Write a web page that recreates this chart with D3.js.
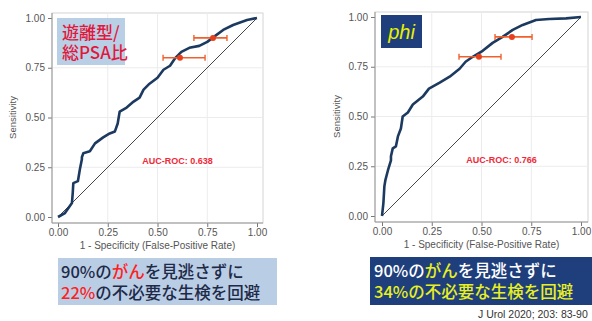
<!DOCTYPE html>
<html>
<head>
<meta charset="utf-8">
<script src="https://cdn.jsdelivr.net/npm/d3@7"></script>
<style>
  body { margin: 0; background: #fff; }
  svg { display: block; }
  .tick text { font-family: "Liberation Sans", Arial, sans-serif; font-size: 10px; fill: #555; }
  .tick line { stroke: #777; }
  .axisTitle { font-family: "Liberation Sans", Arial, sans-serif; fill: #555; }
  .jp { font-family: "Noto Sans CJK JP", sans-serif; font-weight: 500; }
</style>
</head>
<body>
<div id="chart"></div>
<script>
// ROC curve (false-positive rate, sensitivity)
var fprFree = [0, 0.035, 0.07, 0.074, 0.077, 0.10, 0.11, 0.12, 0.12, 0.127, 0.16, 0.186, 0.227, 0.26, 0.286, 0.30, 0.31, 0.345, 0.38, 0.41, 0.43, 0.46, 0.50, 0.53, 0.563, 0.59, 0.62, 0.66, 0.71, 0.75, 0.79, 0.83, 0.88, 0.95, 1.0];
var tprFree = [0, 0.02, 0.07, 0.12, 0.17, 0.18, 0.24, 0.29, 0.30, 0.32, 0.33, 0.37, 0.40, 0.42, 0.43, 0.47, 0.53, 0.55, 0.58, 0.60, 0.64, 0.67, 0.70, 0.74, 0.76, 0.80, 0.83, 0.85, 0.86, 0.88, 0.91, 0.94, 0.965, 0.99, 1.0];

var fprPhi = [0, 0.007, 0.012, 0.017, 0.03, 0.045, 0.045, 0.054, 0.07, 0.08, 0.095, 0.104, 0.13, 0.155, 0.18, 0.205, 0.236, 0.29, 0.34, 0.39, 0.42, 0.456, 0.506, 0.556, 0.606, 0.657, 0.707, 0.774, 0.84, 0.925, 1.0];
var tprPhi = [0, 0.065, 0.15, 0.18, 0.23, 0.28, 0.30, 0.34, 0.35, 0.40, 0.44, 0.50, 0.52, 0.56, 0.58, 0.60, 0.64, 0.67, 0.70, 0.74, 0.775, 0.80, 0.83, 0.87, 0.90, 0.935, 0.96, 0.985, 0.99, 0.993, 1.0];

// cut-off points with confidence intervals on the false-positive rate
var cutTpr = [0.80, 0.90];
var cutFprFree = [0.613, 0.779];
var cutLoFree = [0.528, 0.683];
var cutHiFree = [0.739, 0.849];
var cutFprPhi = [0.487, 0.653];
var cutLoPhi = [0.387, 0.568];
var cutHiPhi = [0.598, 0.754];

var aucLabels = ["AUC-ROC: 0.638", "AUC-ROC: 0.766"];
var tickValues = [0, 0.25, 0.5, 0.75, 1];

var svgWidth = 592;
var svgHeight = 321;

var svg = d3.select("#chart")
    .append("svg")
    .attr("width", svgWidth)
    .attr("height", svgHeight);

var panels = [
    { fpr: fprFree, tpr: tprFree, cutFpr: cutFprFree, lo: cutLoFree, hi: cutHiFree, auc: aucLabels[0],
      x: [58, 257], y: [217, 18], frame: { l: 52, r: 263, t: 13, b: 223 }, ytitle: 16 },
    { fpr: fprPhi, tpr: tprPhi, cutFpr: cutFprPhi, lo: cutLoPhi, hi: cutHiPhi, auc: aucLabels[1],
      x: [382, 581], y: [216, 17], frame: { l: 375, r: 588, t: 12, b: 222 }, ytitle: 340 }
];

panels.forEach(function (p) {
    var x = d3.scaleLinear().domain([0, 1]).range(p.x);
    var y = d3.scaleLinear().domain([0, 1]).range(p.y);
    var f = p.frame;
    var g = svg.append("g");

    // frame and grid
    g.append("rect")
        .attr("x", f.l).attr("y", f.t)
        .attr("width", f.r - f.l).attr("height", f.b - f.t)
        .attr("fill", "#fff").attr("stroke", "#d4d4d4");
    [0.25, 0.5, 0.75].forEach(function (v) {
        g.append("line").attr("x1", x(v)).attr("x2", x(v)).attr("y1", f.t).attr("y2", f.b)
            .attr("stroke", "#ececec");
        g.append("line").attr("x1", f.l).attr("x2", f.r).attr("y1", y(v)).attr("y2", y(v))
            .attr("stroke", "#ececec");
    });

    // axes
    var leftAxis = d3.axisLeft(y).tickValues(tickValues).tickFormat(d3.format(".2f")).tickSize(4).tickPadding(3);
    var bottomAxis = d3.axisBottom(x).tickValues(tickValues).tickFormat(d3.format(".2f")).tickSize(4).tickPadding(2);
    var ya = g.append("g").attr("transform", `translate(${f.l},0)`).call(leftAxis);
    var xa = g.append("g").attr("transform", `translate(0,${f.b})`).call(bottomAxis);
    ya.select(".domain").remove();
    xa.select(".domain").remove();
    g.append("line").attr("x1", f.l).attr("x2", f.l).attr("y1", f.t).attr("y2", f.b).attr("stroke", "#999");
    g.append("line").attr("x1", f.l).attr("x2", f.r).attr("y1", f.b).attr("y2", f.b).attr("stroke", "#999");

    g.append("text")
        .attr("class", "axisTitle")
        .attr("transform", `translate(${p.ytitle},${(p.y[0] + p.y[1]) / 2}) rotate(-90)`)
        .attr("text-anchor", "middle")
        .attr("font-size", 9.5)
        .text("Sensitivity");
    g.append("text")
        .attr("class", "axisTitle")
        .attr("x", (p.x[0] + p.x[1]) / 2)
        .attr("y", f.b + 26)
        .attr("text-anchor", "middle")
        .attr("font-size", 10)
        .text("1 - Specificity (False-Positive Rate)");

    // reference diagonal
    g.append("line")
        .attr("x1", x(0)).attr("y1", y(0)).attr("x2", x(1)).attr("y2", y(1))
        .attr("stroke", "#333").attr("stroke-width", 0.9);

    // ROC curve
    var line = d3.line().x(function (d, i) { return x(p.fpr[i]); }).y(function (d, i) { return y(p.tpr[i]); });
    g.append("path")
        .attr("d", line(p.fpr))
        .attr("fill", "none")
        .attr("stroke", "#1c3a60")
        .attr("stroke-width", 2.6)
        .attr("stroke-linejoin", "round");

    // cut-off points with error bars
    cutTpr.forEach(function (t, i) {
        g.append("line").attr("x1", x(p.lo[i])).attr("x2", x(p.hi[i])).attr("y1", y(t)).attr("y2", y(t))
            .attr("stroke", "#f0602c").attr("stroke-width", 1.6);
        [p.lo[i], p.hi[i]].forEach(function (v) {
            g.append("line").attr("x1", x(v)).attr("x2", x(v)).attr("y1", y(t) - 3).attr("y2", y(t) + 3)
                .attr("stroke", "#f0602c").attr("stroke-width", 1.4);
        });
        g.append("circle").attr("cx", x(p.cutFpr[i])).attr("cy", y(t)).attr("r", 3)
            .attr("fill", "#e8401c");
    });

    g.append("text")
        .attr("x", x(0.6))
        .attr("y", y(0.265))
        .attr("text-anchor", "middle")
        .attr("font-family", "Liberation Sans, Arial, sans-serif")
        .attr("font-weight", "bold")
        .attr("font-size", 9)
        .attr("fill", "#f02838")
        .text(p.auc);
});

// marker label boxes
svg.append("rect").attr("x", 57).attr("y", 18).attr("width", 68).attr("height", 47).attr("fill", "#b9cfe6");
svg.append("text").attr("class", "jp").attr("x", 62).attr("y", 39).attr("font-size", 17)
    .attr("fill", "#e0183c").text("遊離型/");
svg.append("text").attr("class", "jp").attr("x", 62).attr("y", 59).attr("font-size", 17)
    .attr("fill", "#e0183c").text("総PSA比");

svg.append("rect").attr("x", 381).attr("y", 15).attr("width", 41).attr("height", 33).attr("fill", "#1f3f7c");
svg.append("text").attr("x", 401.5).attr("y", 39).attr("text-anchor", "middle")
    .attr("font-family", "Liberation Sans, Arial, sans-serif").attr("font-style", "italic")
    .attr("font-size", 20).attr("fill", "#e8f000").text("phi");

// summary boxes
svg.append("rect").attr("x", 58).attr("y", 258).attr("width", 219).attr("height", 47).attr("fill", "#b9cde5");
var t1 = svg.append("text").attr("class", "jp").attr("x", 61).attr("y", 278).attr("font-size", 16.5).attr("fill", "#1e2a48");
t1.append("tspan").text("90%の");
t1.append("tspan").attr("fill", "#ff2020").text("がん");
t1.append("tspan").text("を見逃さずに");
var t2 = svg.append("text").attr("class", "jp").attr("x", 61).attr("y", 299).attr("font-size", 16.5).attr("fill", "#1e2a48");
t2.append("tspan").attr("fill", "#ff2020").text("22%");
t2.append("tspan").text("の不必要な生検を回避");

svg.append("rect").attr("x", 370).attr("y", 257).attr("width", 222).attr("height", 48).attr("fill", "#1f3f7c");
var t3 = svg.append("text").attr("class", "jp").attr("x", 374).attr("y", 277).attr("font-size", 16.5).attr("fill", "#ffffff");
t3.append("tspan").text("90%の");
t3.append("tspan").attr("fill", "#e8f020").text("がん");
t3.append("tspan").text("を見逃さずに");
svg.append("text").attr("class", "jp").attr("x", 374).attr("y", 298).attr("font-size", 16.5)
    .attr("font-weight", "bold").attr("fill", "#e8f020").text("34%の不必要な生検を回避");

svg.append("text")
    .attr("x", 478).attr("y", 318)
    .attr("font-family", "Liberation Sans, Arial, sans-serif")
    .attr("font-size", 10.5).attr("fill", "#333")
    .text("J Urol 2020; 203: 83-90");
</script>
</body>
</html>
